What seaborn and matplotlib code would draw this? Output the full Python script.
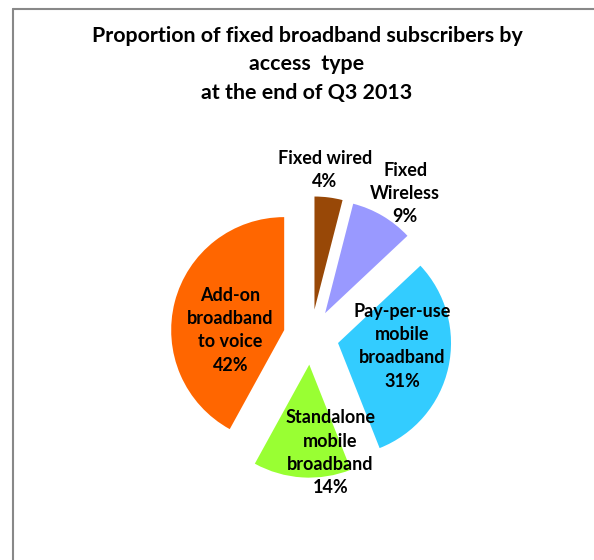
import matplotlib
matplotlib.use("Agg")
import matplotlib.pyplot as plt
import seaborn as sns
import numpy as np
from matplotlib.lines import Line2D

sns.set_theme(style="white")
plt.rcParams['font.family'] = ['Lato', 'DejaVu Sans']

# ---- data ----
categories = ["Fixed wired", "Fixed Wireless", "Pay-per-use mobile broadband",
              "Standalone mobile broadband", "Add-on broadband to voice"]
label_texts = ["Fixed wired\n4%", "Fixed\nWireless\n9%",
               "Pay-per-use\nmobile\nbroadband\n31%",
               "Standalone\nmobile\nbroadband\n14%",
               "Add-on\nbroadband\nto voice\n42%"]
shares = [4, 9, 31, 14, 42]
title = "Proportion of fixed broadband subscribers by\naccess  type\nat the end of Q3 2013"

# ---- style ----
colors = ["#984807", "#9999FF", "#33CCFF", "#99FF33", "#FF6600"]
explode_frac = 0.245
label_radius = [1.48, 1.52, 0.81, 1.04, 0.715]
label_angle_tweak = [-2.5, 2.7, -6.8, -13.2, -9.5]

W, H = 594, 560
fig = plt.figure(figsize=(W / 100, H / 100), dpi=100)
ax = fig.add_axes([0, 0, 1, 1])

px_per_unit = 113.0
cx, cy = 311.0, 337.0  # pie centre in pixels (from top-left)

ax.pie(shares, colors=colors, startangle=90, counterclock=False,
       explode=[explode_frac] * len(shares), radius=1.0,
       wedgeprops=dict(linewidth=0))

ax.set_xlim(-cx / px_per_unit, (W - cx) / px_per_unit)
ax.set_ylim(-(H - cy) / px_per_unit, cy / px_per_unit)
ax.set_aspect('equal')
ax.axis('off')

# labels
total = float(sum(shares))
start = 0.0
for i, v in enumerate(shares):
    span = 360.0 * v / total
    mid = start + span / 2.0 + label_angle_tweak[i]  # clockwise from 12 o'clock
    a = np.deg2rad(mid)
    x = label_radius[i] * np.sin(a)
    y = label_radius[i] * np.cos(a)
    ax.text(x, y, label_texts[i], ha='center', va='center', fontsize=13,
            fontweight='bold', color='black', linespacing=1.45)
    start += span

fig.text(0.5 + 10 / W, 1 - 64.5 / H, title, ha='center', va='center',
         fontsize=15.4, fontweight='bold', color='black', linespacing=1.5)

# chart frame (left and top edges visible)
fig.add_artist(Line2D([12.5 / W, 12.5 / W], [0, 1 - 8.5 / H],
                      transform=fig.transFigure, color='#888888', lw=1.5))
fig.add_artist(Line2D([12.5 / W, 1], [1 - 8.5 / H, 1 - 8.5 / H],
                      transform=fig.transFigure, color='#888888', lw=1.5))

fig.savefig("out.png", dpi=100, facecolor='white')
